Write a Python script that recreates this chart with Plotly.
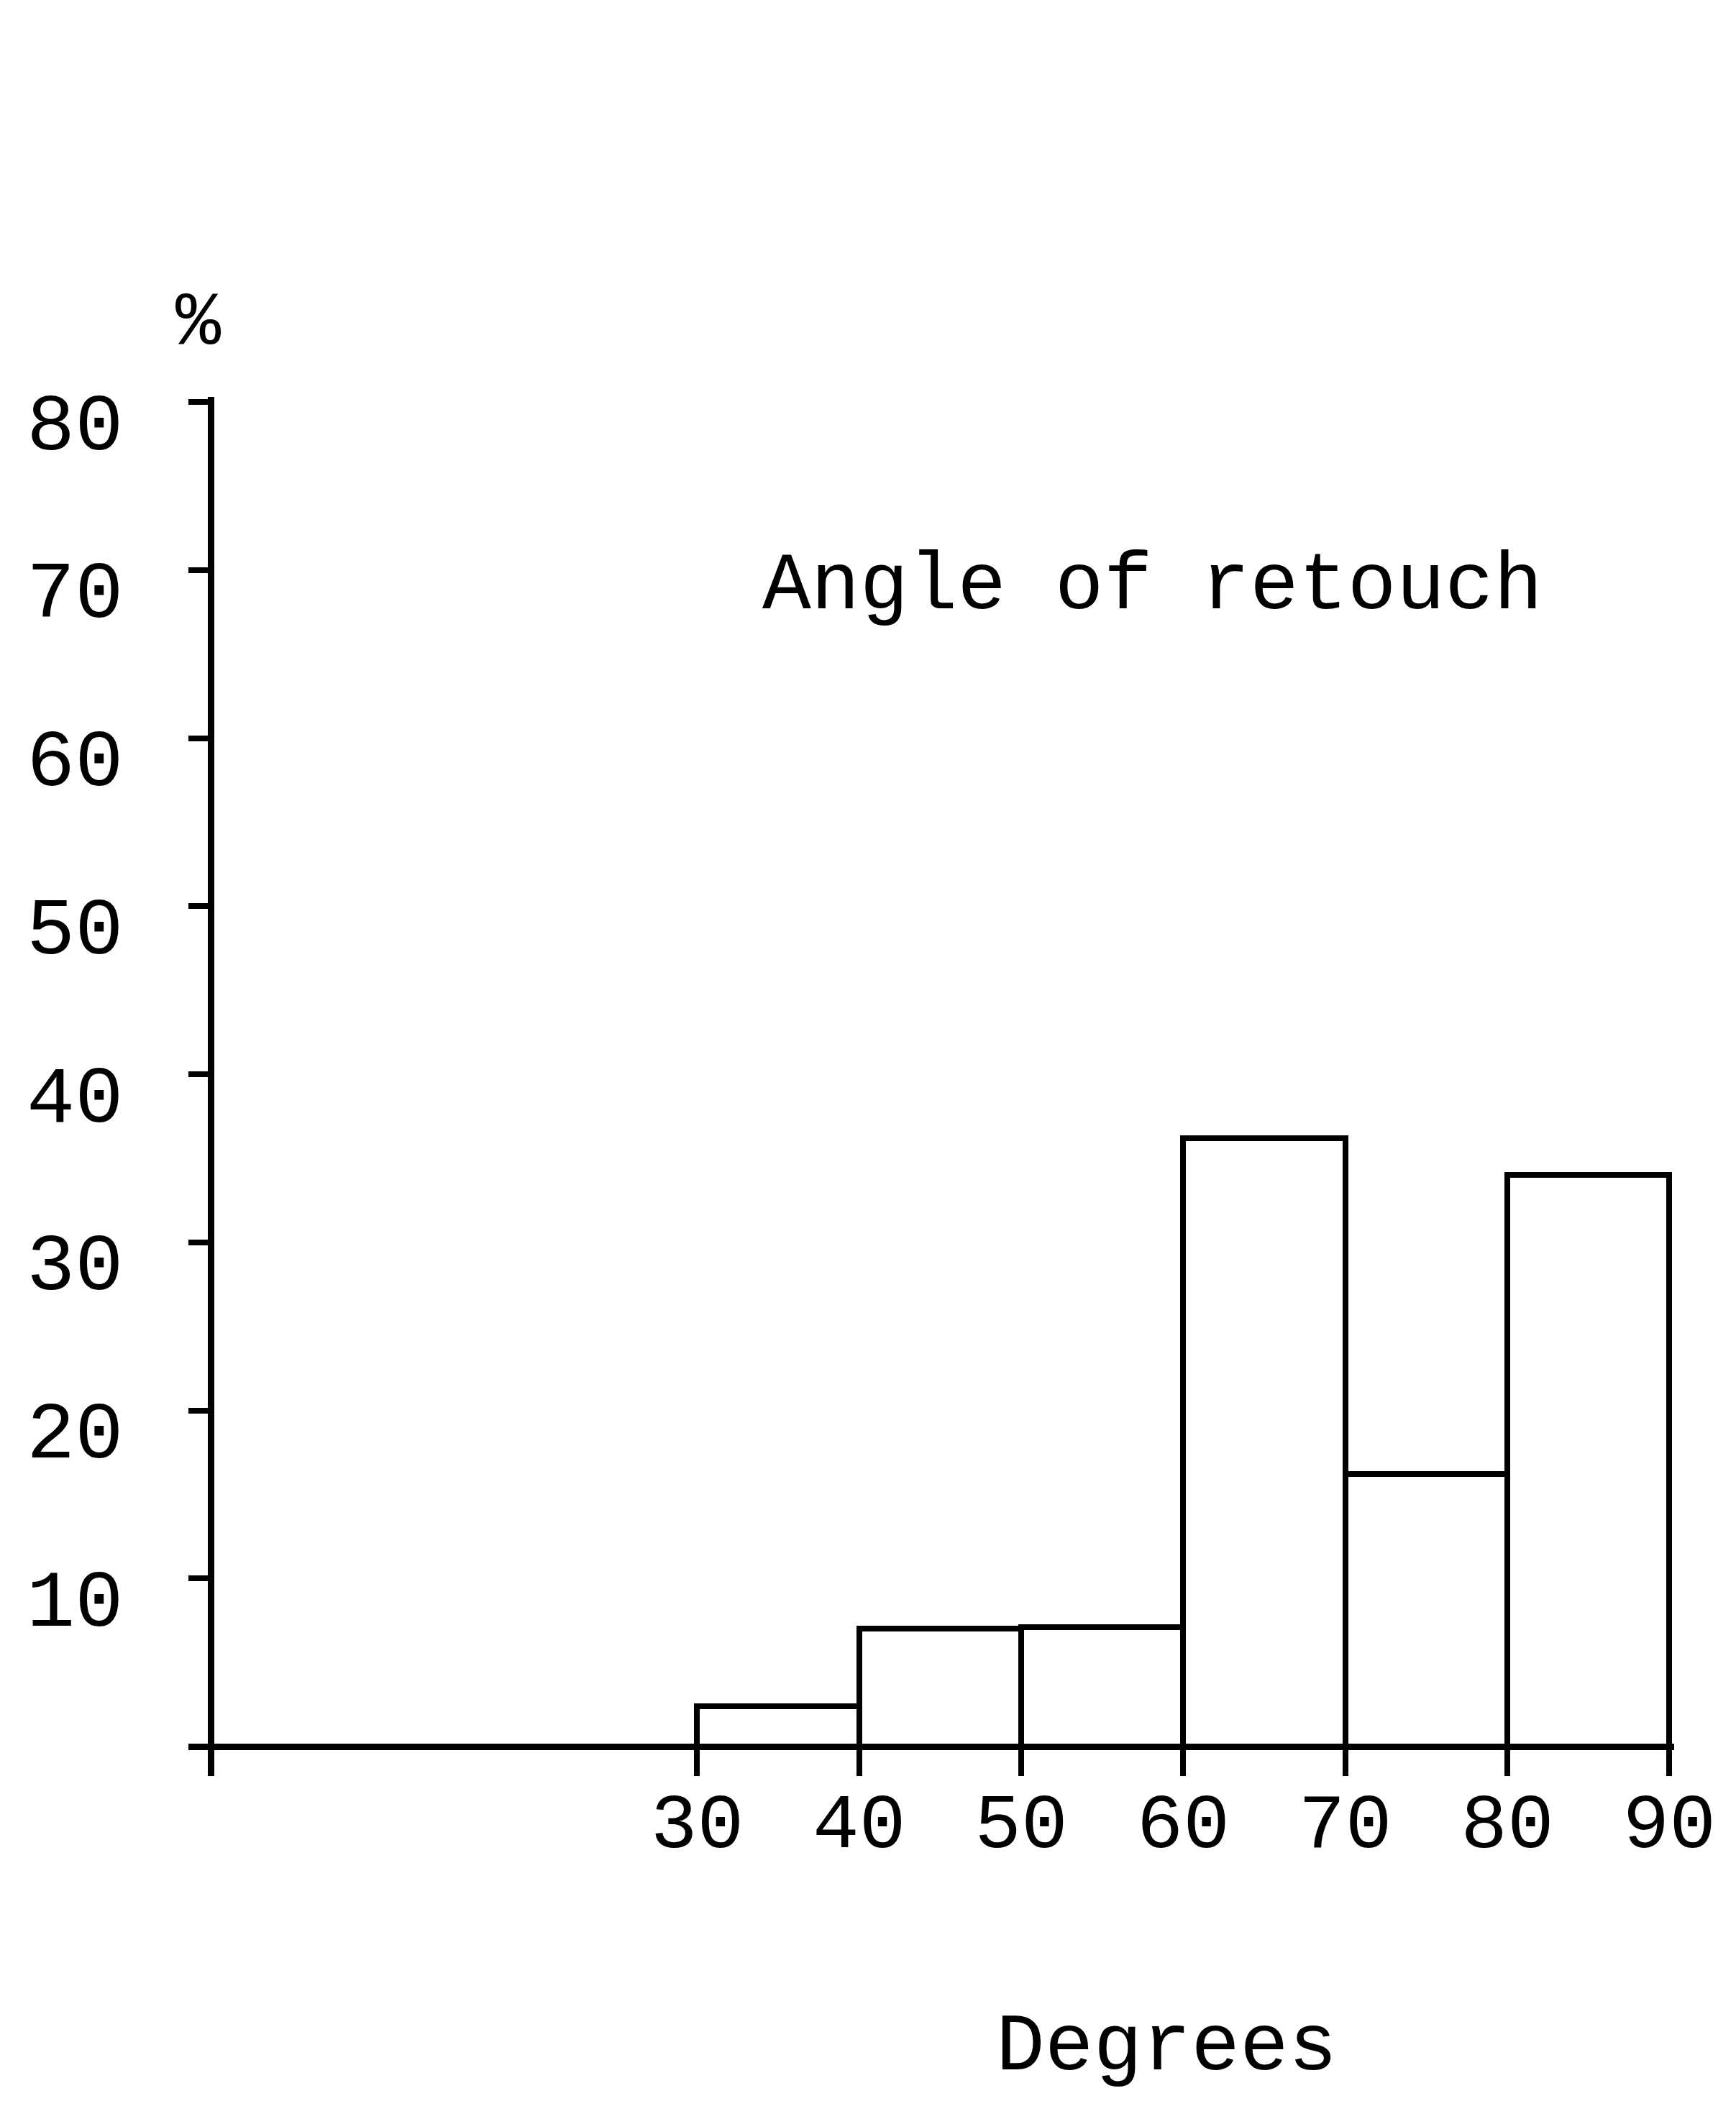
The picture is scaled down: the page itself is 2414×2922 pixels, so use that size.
import plotly.graph_objects as go

# Histogram of retouch angles (percent of pieces per 10-degree class)
bin_left = [30, 40, 50, 60, 70, 80]
bin_width = 10
percent = [2.4, 7.0, 7.1, 36.2, 16.2, 34.0]

x_ticks = [30, 40, 50, 60, 70, 80, 90]
y_ticks = [0, 10, 20, 30, 40, 50, 60, 70, 80]
y_tick_text = ["", "10", "20", "30", "40", "50", "60", "70", "80"]

FONT = "Liberation Mono, Courier New, monospace"
INK = "#000000"

centers = [b + bin_width / 2 for b in bin_left]

fig = go.Figure()
fig.add_trace(go.Bar(
    x=centers,
    y=percent,
    width=[bin_width] * len(centers),
    marker=dict(color="white", line=dict(color=INK, width=8)),
    showlegend=False,
    hoverinfo="skip",
))

fig.update_layout(
    width=2414,
    height=2922,
    margin=dict(l=262, r=86, t=552, b=452),
    paper_bgcolor="white",
    plot_bgcolor="white",
    font=dict(family=FONT, color=INK),
    bargap=0,
    xaxis=dict(
        range=[-1.4, 90.3],
        tickmode="array",
        tickvals=x_ticks,
        ticktext=[str(v) for v in x_ticks],
        ticks="inside",
        ticklen=41,
        tickwidth=8,
        tickcolor=INK,
        tickfont=dict(family=FONT, size=108, color=INK),
        ticklabelstandoff=-10,
        showgrid=False,
        showline=False,
        zeroline=True,
        zerolinecolor=INK,
        zerolinewidth=9,
    ),
    yaxis=dict(
        range=[-1.75, 80.3],
        tickmode="array",
        tickvals=y_ticks,
        ticktext=[""] * len(y_ticks),
        ticks="inside",
        ticklen=32,
        tickwidth=8,
        tickcolor=INK,
        showgrid=False,
        showline=False,
        zeroline=True,
        zerolinecolor=INK,
        zerolinewidth=9,
    ),
)

# y tick labels sit a little below their tick marks
for val, txt in zip(y_ticks, y_tick_text):
    if txt:
        fig.add_annotation(
            text=txt, x=-0.043, y=val, xref="paper", yref="y",
            xanchor="right", yanchor="middle", yshift=-36, showarrow=False,
            font=dict(family=FONT, size=112, color=INK),
        )

fig.add_annotation(text="Angle of retouch", x=58.1, y=69.0, xref="x", yref="y",
                   showarrow=False, xanchor="center", yanchor="middle",
                   font=dict(family=FONT, size=113, color=INK))
fig.add_annotation(text="Degrees", x=59.0, y=-0.197, xref="x", yref="paper",
                   showarrow=False, xanchor="center", yanchor="middle",
                   font=dict(family=FONT, size=113, color=INK))
fig.add_annotation(text="%", x=0.007, y=1.053, xref="paper", yref="paper",
                   showarrow=False, xanchor="center", yanchor="middle",
                   font=dict(family=FONT, size=105, color=INK))

fig.write_html("out.html")
